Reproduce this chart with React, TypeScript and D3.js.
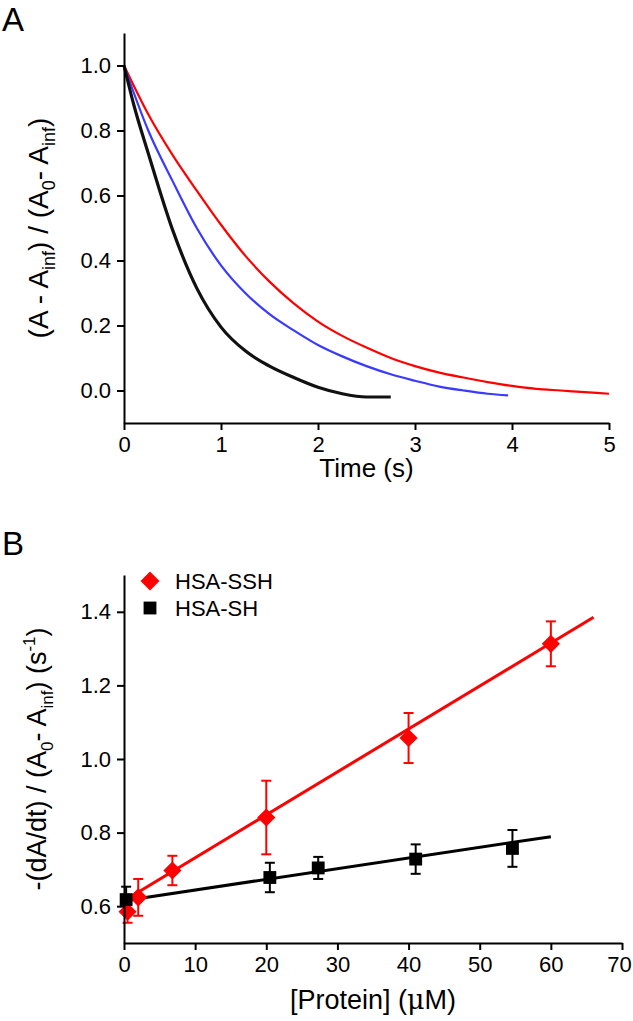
import * as d3 from "d3";
import React, { useEffect, useRef } from "react";

// Panel A: normalized decay traces
const timeRed = [0, 0.25, 0.5, 0.75, 1.0, 1.25, 1.5, 1.75, 2.0, 2.25, 2.5, 2.75, 3.0, 3.25, 3.5, 3.75, 4.0, 4.25, 4.5, 4.75, 5.0];
const valRed = [1.0, 0.85, 0.725, 0.615, 0.51, 0.415, 0.335, 0.268, 0.212, 0.168, 0.132, 0.1, 0.075, 0.055, 0.04, 0.026, 0.014, 0.005, 0.0, -0.005, -0.01];
const timeBlue = [0, 0.25, 0.5, 0.75, 1.0, 1.25, 1.5, 1.75, 2.0, 2.25, 2.5, 2.75, 3.0, 3.25, 3.5, 3.75, 3.96];
const valBlue = [1.0, 0.8, 0.645, 0.5, 0.385, 0.3, 0.235, 0.185, 0.14, 0.105, 0.075, 0.05, 0.03, 0.012, 0.0, -0.01, -0.015];
const timeBlack = [0, 0.1, 0.25, 0.5, 0.75, 1.0, 1.25, 1.5, 1.75, 2.0, 2.25, 2.5, 2.75];
const valBlack = [1.0, 0.88, 0.73, 0.495, 0.315, 0.195, 0.122, 0.075, 0.04, 0.01, -0.01, -0.02, -0.02];
const timeTicks = [0, 1, 2, 3, 4, 5];
const normTicks = [0, 0.2, 0.4, 0.6, 0.8, 1.0];

// Panel B: rate vs protein concentration
const sshConc = [0.5, 2, 6.8, 20, 40, 60];
const sshRate = [0.585, 0.624, 0.697, 0.841, 1.057, 1.313];
const sshErr = [0.03, 0.05, 0.04, 0.1, 0.068, 0.061];
const shConc = [0.3, 20.5, 27.3, 41, 54.6];
const shRate = [0.618, 0.678, 0.704, 0.728, 0.757];
const shErr = [0.035, 0.04, 0.03, 0.04, 0.05];
const sshFitX = [0, 66];
const sshFitY = [0.615, 1.385];
const shFitX = [0, 60];
const shFitY = [0.615, 0.789];
const concTicks = [0, 10, 20, 30, 40, 50, 60, 70];
const rateTicks = [0.6, 0.8, 1.0, 1.2, 1.4];
const legendNames = ["HSA-SSH", "HSA-SH"];

const FONT = "Arial, 'Liberation Sans', sans-serif";
const RED = "#ff0000";
const BLUE = "#3a3aff";

const App: React.FC = () => {
  const ref = useRef<SVGSVGElement>(null);

  useEffect(() => {
    if (!ref.current) return;
    const svg = d3.select(ref.current);
    svg.selectAll("*").remove();

    const styleAxis = (g: d3.Selection<SVGGElement, unknown, null, undefined>) => {
      g.attr("font-family", FONT).attr("font-size", 22);
      g.select(".domain").attr("stroke", "#000").attr("stroke-width", 2);
      g.selectAll(".tick line").attr("stroke", "#000").attr("stroke-width", 2);
      g.selectAll(".tick text").attr("fill", "#000");
    };

    // ---------- Panel A ----------
    const xA = d3.scaleLinear().domain([0, 5]).range([124, 609]);
    const yA = d3.scaleLinear().domain([-0.1, 1.1]).range([423, 33]);

    const line = d3
      .line<[number, number]>()
      .x((d) => xA(d[0]))
      .y((d) => yA(d[1]))
      .curve(d3.curveMonotoneX);

    const traces = [
      { t: timeRed, v: valRed, color: RED, w: 2.2 },
      { t: timeBlue, v: valBlue, color: BLUE, w: 2.2 },
      { t: timeBlack, v: valBlack, color: "#111", w: 3.2 },
    ];
    traces.forEach((tr) => {
      svg
        .append("path")
        .datum(tr.t.map((t, i) => [t, tr.v[i]] as [number, number]))
        .attr("fill", "none")
        .attr("stroke", tr.color)
        .attr("stroke-width", tr.w)
        .attr("d", line);
    });

    const axA = svg
      .append("g")
      .attr("transform", `translate(0,${yA(-0.1)})`)
      .call(
        d3.axisBottom(xA).tickValues(timeTicks).tickFormat(d3.format("d")).tickSize(7).tickSizeOuter(0).tickPadding(6)
      );
    styleAxis(axA);
    const ayA = svg
      .append("g")
      .attr("transform", `translate(${xA(0)},0)`)
      .call(
        d3.axisLeft(yA).tickValues(normTicks).tickFormat(d3.format(".1f")).tickSize(7).tickSizeOuter(0).tickPadding(6)
      );
    styleAxis(ayA);

    svg
      .append("text")
      .attr("x", (xA(0) + xA(5)) / 2)
      .attr("y", 477)
      .attr("text-anchor", "middle")
      .attr("font-family", FONT)
      .attr("font-size", 26)
      .text("Time (s)");

    const yTitleA = svg
      .append("text")
      .attr("transform", `translate(48,${(yA(-0.1) + yA(1.1)) / 2}) rotate(-90)`)
      .attr("text-anchor", "middle")
      .attr("font-family", FONT)
      .attr("font-size", 28);
    yTitleA.append("tspan").text("(A - A");
    yTitleA.append("tspan").attr("font-size", 18).attr("dy", 7).text("inf");
    yTitleA.append("tspan").attr("dy", -7).text(") / (A");
    yTitleA.append("tspan").attr("font-size", 18).attr("dy", 7).text("0");
    yTitleA.append("tspan").attr("dy", -7).text("- A");
    yTitleA.append("tspan").attr("font-size", 18).attr("dy", 7).text("inf");
    yTitleA.append("tspan").attr("dy", -7).text(")");

    svg
      .append("text")
      .attr("x", 2)
      .attr("y", 31)
      .attr("font-family", FONT)
      .attr("font-size", 33)
      .text("A");

    // ---------- Panel B ----------
    const xB = d3.scaleLinear().domain([0, 70]).range([124, 622]);
    const yB = d3.scaleLinear().domain([0.5, 1.5]).range([943, 575]);

    const fitLine = d3
      .line<[number, number]>()
      .x((d) => xB(d[0]))
      .y((d) => yB(d[1]));

    svg
      .append("path")
      .datum(sshFitX.map((x, i) => [x, sshFitY[i]] as [number, number]))
      .attr("fill", "none")
      .attr("stroke", RED)
      .attr("stroke-width", 3)
      .attr("d", fitLine);
    svg
      .append("path")
      .datum(shFitX.map((x, i) => [x, shFitY[i]] as [number, number]))
      .attr("fill", "none")
      .attr("stroke", "#000")
      .attr("stroke-width", 3)
      .attr("d", fitLine);

    const drawErrors = (xs: number[], ys: number[], es: number[], color: string) => {
      const g = svg.append("g").attr("stroke", color).attr("stroke-width", 2);
      xs.forEach((x, i) => {
        const cx = xB(x);
        const top = yB(ys[i] + es[i]);
        const bot = yB(ys[i] - es[i]);
        g.append("line").attr("x1", cx).attr("x2", cx).attr("y1", top).attr("y2", bot);
        g.append("line").attr("x1", cx - 5).attr("x2", cx + 5).attr("y1", top).attr("y2", top);
        g.append("line").attr("x1", cx - 5).attr("x2", cx + 5).attr("y1", bot).attr("y2", bot);
      });
    };
    drawErrors(sshConc, sshRate, sshErr, RED);
    drawErrors(shConc, shRate, shErr, "#000");

    svg
      .append("g")
      .selectAll("path")
      .data(sshConc)
      .enter()
      .append("path")
      .attr("transform", (d, i) => `translate(${xB(d)},${yB(sshRate[i])}) rotate(45)`)
      .attr("d", d3.symbol().type(d3.symbolSquare).size(165)())
      .attr("fill", RED);

    svg
      .append("g")
      .selectAll("path")
      .data(shConc)
      .enter()
      .append("path")
      .attr("transform", (d, i) => `translate(${xB(d)},${yB(shRate[i])})`)
      .attr("d", d3.symbol().type(d3.symbolSquare).size(165)())
      .attr("fill", "#000");

    const axB = svg
      .append("g")
      .attr("transform", `translate(0,${yB(0.5)})`)
      .call(
        d3.axisBottom(xB).tickValues(concTicks).tickFormat(d3.format("d")).tickSize(7).tickSizeOuter(0).tickPadding(6)
      );
    styleAxis(axB);
    // keep the last label inside the picture
    axB
      .selectAll<SVGTextElement, number>(".tick text")
      .filter((d) => d === 70)
      .attr("dx", -3);
    const ayB = svg
      .append("g")
      .attr("transform", `translate(${xB(0)},0)`)
      .call(
        d3.axisLeft(yB).tickValues(rateTicks).tickFormat(d3.format(".1f")).tickSize(7).tickSizeOuter(0).tickPadding(6)
      );
    styleAxis(ayB);

    // legend
    const legend = svg.append("g").attr("font-family", FONT).attr("font-size", 22);
    legend
      .append("path")
      .attr("transform", "translate(150,581) rotate(45)")
      .attr("d", d3.symbol().type(d3.symbolSquare).size(180)())
      .attr("fill", RED);
    legend
      .append("path")
      .attr("transform", "translate(150,608)")
      .attr("d", d3.symbol().type(d3.symbolSquare).size(165)())
      .attr("fill", "#000");
    legendNames.forEach((name, i) => {
      legend
        .append("text")
        .attr("x", 175)
        .attr("y", 589 + i * 27)
        .text(name);
    });

    const xTitleB = svg
      .append("text")
      .attr("x", (xB(0) + xB(70)) / 2)
      .attr("y", 1009)
      .attr("text-anchor", "middle")
      .attr("font-family", FONT)
      .attr("font-size", 27);
    xTitleB.append("tspan").text("[Protein] (");
    xTitleB.append("tspan").attr("font-family", "'DejaVu Serif', serif").text("\u03bc");
    xTitleB.append("tspan").text("M)");

    const yTitleB = svg
      .append("text")
      .attr("transform", `translate(46,${(yB(0.5) + yB(1.5)) / 2}) rotate(-90)`)
      .attr("text-anchor", "middle")
      .attr("font-family", FONT)
      .attr("font-size", 27);
    yTitleB.append("tspan").text("-(dA/dt) / (A");
    yTitleB.append("tspan").attr("font-size", 17).attr("dy", 7).text("0");
    yTitleB.append("tspan").attr("dy", -7).text("- A");
    yTitleB.append("tspan").attr("font-size", 17).attr("dy", 7).text("inf");
    yTitleB.append("tspan").attr("dy", -7).text(") (s");
    yTitleB.append("tspan").attr("font-size", 17).attr("dy", -11).text("-1");
    yTitleB.append("tspan").attr("dy", 11).text(")");

    svg
      .append("text")
      .attr("x", 2)
      .attr("y", 555)
      .attr("font-family", FONT)
      .attr("font-size", 33)
      .text("B");
  }, []);

  return (
    <svg
      ref={ref}
      width={633}
      height={1021}
      style={{ position: "absolute", left: 0, top: 0, background: "#fff" }}
    ></svg>
  );
};

export default App;
